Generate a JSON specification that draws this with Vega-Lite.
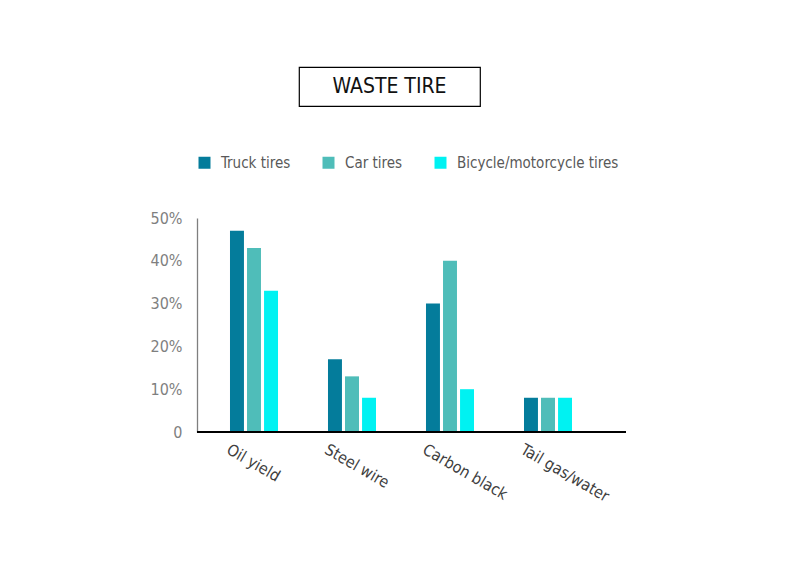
{
  "$schema": "https://vega.github.io/schema/vega-lite/v6.json",
  "description": "Waste tire pyrolysis products by tire type.",
  "padding": {"top": 66, "left": 150, "right": 10, "bottom": 10},
  "background": "white",
  "spacing": 48,
  "data": {
    "values": [
      {"product": "Oil yield", "type": "Truck tires", "share": 0.47},
      {"product": "Oil yield", "type": "Car tires", "share": 0.43},
      {"product": "Oil yield", "type": "Bicycle/motorcycle tires", "share": 0.33},
      {"product": "Steel wire", "type": "Truck tires", "share": 0.17},
      {"product": "Steel wire", "type": "Car tires", "share": 0.13},
      {"product": "Steel wire", "type": "Bicycle/motorcycle tires", "share": 0.08},
      {"product": "Carbon black", "type": "Truck tires", "share": 0.30},
      {"product": "Carbon black", "type": "Car tires", "share": 0.40},
      {"product": "Carbon black", "type": "Bicycle/motorcycle tires", "share": 0.10},
      {"product": "Tail gas/water", "type": "Truck tires", "share": 0.08},
      {"product": "Tail gas/water", "type": "Car tires", "share": 0.08},
      {"product": "Tail gas/water", "type": "Bicycle/motorcycle tires", "share": 0.08}
    ]
  },
  "vconcat": [
    {
      "spacing": 0,
      "hconcat": [
        {
          "width": 101,
          "height": 39,
          "view": {"stroke": null},
          "transform": [{"filter": "false"}],
          "mark": {"type": "text"},
          "encoding": {"text": {"value": ""}}
        },
        {
          "width": 181,
          "height": 39,
          "view": {"stroke": "#000000", "strokeWidth": 1.2},
          "transform": [{"filter": "datum.type === 'Truck tires' && datum.product === 'Oil yield'"}],
          "mark": {
            "type": "text",
            "fontSize": 21,
            "color": "#111111",
            "baseline": "middle",
            "align": "center"
          },
          "encoding": {"text": {"value": "WASTE TIRE"}}
        }
      ]
    },
    {
      "width": 429,
      "height": 214,
      "view": {"stroke": null},
      "encoding": {
        "y": {
          "field": "share",
          "type": "quantitative",
          "title": null,
          "scale": {"domain": [0, 0.5]},
          "axis": {
            "values": [0, 0.1, 0.2, 0.3, 0.4, 0.5],
            "format": ".0%",
            "labelExpr": "datum.value === 0 ? '0' : datum.label",
            "grid": false,
            "ticks": false,
            "domainColor": "#7f7f7f",
            "domainWidth": 1.3,
            "labelFontSize": 16,
            "labelColor": "#7f7f7f",
            "labelPadding": 15
          }
        }
      },
      "layer": [
        {
          "mark": {"type": "bar"},
          "encoding": {
            "x": {
              "field": "product",
              "type": "nominal",
              "sort": null,
              "title": null,
              "scale": {"range": [8, 400], "paddingInner": 0.51, "paddingOuter": 0.255},
              "axis": {
                "domain": false,
                "ticks": false,
                "labelAngle": 30,
                "labelAlign": "left",
                "labelBaseline": "top",
                "labelOffset": -22,
                "labelPadding": 9,
                "labelFontSize": 16,
                "labelColor": "#404040"
              }
            },
            "xOffset": {
              "field": "type",
              "type": "nominal",
              "sort": null,
              "scale": {"paddingInner": 0.18, "paddingOuter": 0}
            },
            "color": {
              "field": "type",
              "type": "nominal",
              "title": null,
              "scale": {
                "domain": ["Truck tires", "Car tires", "Bicycle/motorcycle tires"],
                "range": ["#047C9B", "#4FBDB9", "#00F2F2"]
              },
              "legend": {
                "orient": "top",
                "direction": "horizontal",
                "symbolType": "square",
                "symbolSize": 144,
                "symbolStrokeWidth": 0,
                "labelFontSize": 15,
                "labelColor": "#595959",
                "labelOffset": 9,
                "labelLimit": 300,
                "columnPadding": 30,
                "offset": 47
              }
            }
          }
        },
        {
          "mark": {"type": "rule", "color": "#000000", "strokeWidth": 1.3},
          "encoding": {"y": {"datum": 0}}
        }
      ]
    }
  ],
  "resolve": {"legend": {"color": "independent"}},
  "config": {
    "font": "DejaVu Sans Condensed, Liberation Sans Narrow, sans-serif"
  }
}
